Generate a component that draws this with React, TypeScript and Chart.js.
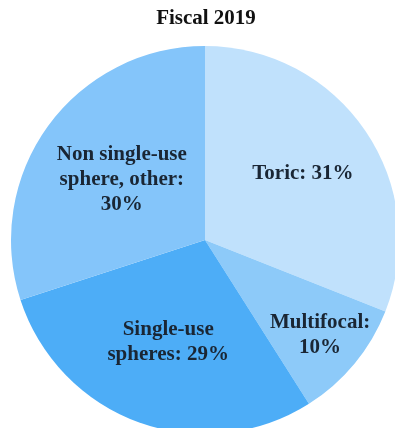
import React, { useEffect, useRef } from "react";
import { Chart, registerables } from "chart.js";

Chart.register(...registerables);

const title = "Fiscal 2019";
const categories = ["Toric", "Multifocal", "Single-use spheres", "Non single-use sphere, other"];
const shares = [31, 10, 29, 30];
const labelLines = [
  ["Toric: 31%"],
  ["Multifocal:", "10%"],
  ["Single-use", "spheres: 29%"],
  ["Non single-use", "sphere, other:", "30%"],
];
const colors = ["#C0E1FC", "#8DCAF9", "#4DADF7", "#84C5FA"];
const labelRadiusFactor = [0.61, 0.77, 0.56, 0.53];

const FONT = "bold 21px 'Liberation Serif', 'Times New Roman', serif";
const TEXT_COLOR = "#1a2634";

const labelPlugin = {
  id: "sliceLabels",
  afterDatasetsDraw(chart: any) {
    const ctx = chart.ctx;
    const meta = chart.getDatasetMeta(0);
    ctx.save();
    ctx.font = FONT;
    ctx.fillStyle = TEXT_COLOR;
    ctx.textAlign = "center";
    ctx.textBaseline = "middle";
    meta.data.forEach((arc: any, i: number) => {
      const p = arc.getProps(["x", "y", "startAngle", "endAngle", "outerRadius"], true);
      const mid = (p.startAngle + p.endAngle) / 2;
      const r = p.outerRadius * labelRadiusFactor[i];
      const cx = p.x + Math.cos(mid) * r;
      const cy = p.y + Math.sin(mid) * r;
      const lines = labelLines[i];
      const lh = 25;
      const startY = cy - ((lines.length - 1) * lh) / 2;
      lines.forEach((ln, j) => ctx.fillText(ln, cx, startY + j * lh));
    });
    ctx.fillStyle = "#111111";
    const m = meta.data[0];
    ctx.fillText(title, m ? m.x + 1 : 206, 19);
    ctx.restore();
  },
};

export default function App() {
  const ref = useRef<HTMLCanvasElement | null>(null);
  useEffect(() => {
    if (!ref.current) return;
    const chart = new Chart(ref.current, {
      type: "pie",
      data: {
        labels: categories,
        datasets: [
          {
            data: shares,
            backgroundColor: colors,
            borderWidth: 0,
          },
        ],
      },
      options: {
        responsive: false,
        animation: false,
        layout: { padding: { left: 11, right: 11, top: 46, bottom: 6 } },
        plugins: {
          legend: { display: false },
          tooltip: { enabled: false },
          title: { display: false },
        },
      },
      plugins: [labelPlugin],
    });
    return () => chart.destroy();
  }, []);
  return (
    <div style={{ position: "fixed", left: 0, top: 0, width: 395, height: 428, overflow: "hidden", background: "#ffffff" }}>
      <canvas ref={ref} width={410} height={440} style={{ position: "absolute", left: 0, top: 0, width: 410, height: 440 }} />
    </div>
  );
}
